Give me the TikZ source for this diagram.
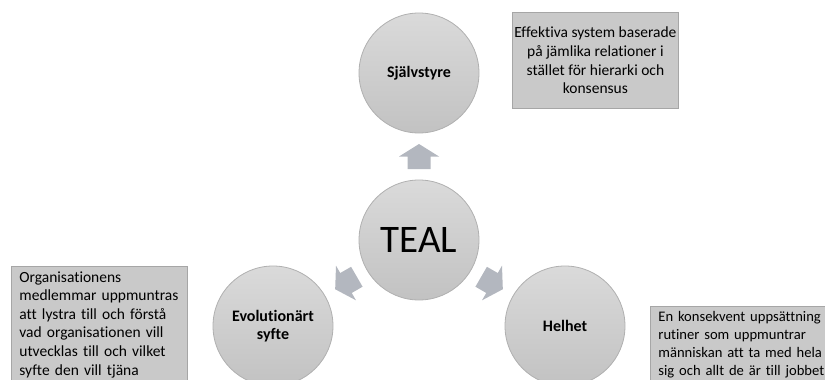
\documentclass[tikz,border=0pt]{standalone}
\usepackage{fontspec}
\setmainfont[Ligatures={NoCommon}]{Carlito}
\usetikzlibrary{positioning}

\definecolor{circtop}{HTML}{DADADA}
\definecolor{circbot}{HTML}{C2C2C2}
\definecolor{circline}{HTML}{B0B0B0}
\definecolor{boxfill}{HTML}{C9C9C9}
\definecolor{boxline}{HTML}{A6A6A6}
\definecolor{arrowfill}{HTML}{B3B7BF}

\tikzset{
  topic/.style={circle, minimum size=120pt, inner sep=0pt,
    top color=circtop, bottom color=circbot, draw=circline, line width=0.8pt,
    align=center, font=\fontsize{16}{18}\selectfont\bfseries},
  core/.style={topic, font=\fontsize{39}{42}\selectfont},
  notebox/.style={rectangle, fill=boxfill, draw=boxline, line width=0.8pt,
    inner xsep=8pt, inner ysep=5pt, font=\fontsize{15.5}{18.6}\selectfont},
  blockarrow/.pic={
    \begin{scope}[x=1pt, y=1pt]
      \fill[arrowfill] (0,12.5) -- (20,0) -- (11.5,0) -- (11.5,-12.5)
        -- (-11.5,-12.5) -- (-11.5,0) -- (-20,0) -- cycle;
    \end{scope}
  }
}

\begin{document}
\begin{tikzpicture}[x=1pt, y=-1pt]
  \useasboundingbox (0,0) rectangle (825,380);

  % the four circles: core and its three aspects
  \node[core]  (teal) at (419,240) {TEAL};
  \node[topic] (self) at (419,73)  {Självstyre};
  \node[topic] (evol) at (273,326) {Evolutionärt\\syfte};
  \node[topic] (whole) at (565,326) {Helhet};

  % block arrows pointing from the core outwards
  \path (teal) -- (self) coordinate[pos=0.5] (aself);
  \path (teal) -- (evol) coordinate[pos=0.5] (aevol);
  \path (teal) -- (whole) coordinate[pos=0.5] (awhole);
  \pic[rotate=0]    at (aself)  {blockarrow};
  \pic[rotate=120]  at (aevol)  {blockarrow};
  \pic[rotate=-120] at (awhole) {blockarrow};

  % descriptive notes
  \node[notebox, anchor=north west, minimum width=166pt, minimum height=96pt,
        align=center, inner xsep=2pt] (selfnote) at (512,12)
    {Effektiva system baserade\\på jämlika relationer i\\stället för hierarki och\\konsensus};
  \node[notebox, anchor=north west, minimum width=176pt, align=left,
        text width=160pt] (evolnote) at (11,266)
    {Organisationens\\medlemmar uppmuntras\\att lystra till och förstå\\vad organisationen vill\\utvecklas till och vilket\\syfte den vill tjäna};
  \node[notebox, anchor=north west, align=left, text width=180pt,
        font=\fontsize{14.6}{18}\selectfont] (wholenote) at (650,306)
    {En konsekvent uppsättning\\rutiner som uppmuntrar\\människan att ta med hela\\sig och allt de är till jobbet};
\end{tikzpicture}
\end{document}
